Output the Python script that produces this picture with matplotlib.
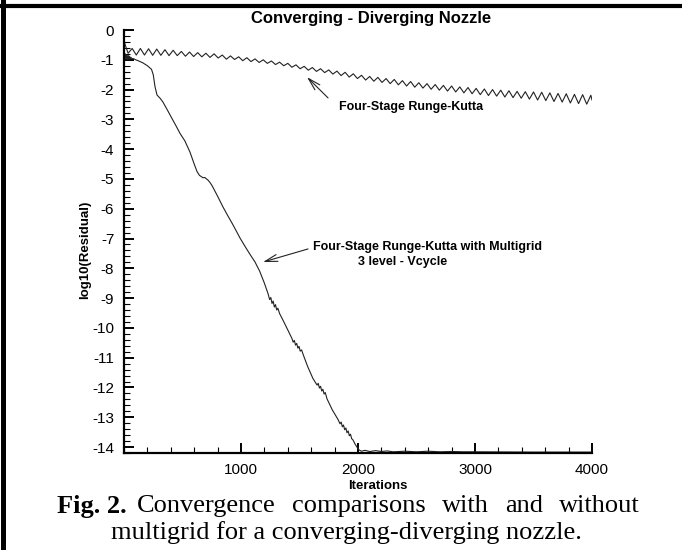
import matplotlib
matplotlib.use("Agg")
import matplotlib.pyplot as plt
from matplotlib.lines import Line2D
from matplotlib.ticker import MultipleLocator

plt.rcParams["font.family"] = ["Liberation Sans", "DejaVu Sans"]
plt.rcParams["axes.unicode_minus"] = False

# residual history, plain four-stage Runge-Kutta (peaks / troughs of the wiggle)
rk_iter = [0, 35, 70, 105, 140, 175, 210, 245, 280, 315, 350, 385, 420, 455, 490,
           525, 560, 595, 630, 665, 700, 735, 770, 805, 840, 875, 910, 945, 980,
           1015, 1050, 1085, 1120, 1155, 1190, 1225, 1260, 1295, 1330, 1365, 1400,
           1435, 1470, 1505, 1540, 1575, 1610, 1645, 1680, 1715, 1750, 1785, 1820,
           1855, 1890, 1925, 1960, 1995, 2030, 2065, 2100, 2135, 2170, 2205, 2240,
           2275, 2310, 2345, 2380, 2415, 2450, 2485, 2520, 2555, 2590, 2625, 2660,
           2695, 2730, 2765, 2800, 2835, 2870, 2905, 2940, 2975, 3010, 3045, 3080,
           3115, 3150, 3185, 3220, 3255, 3290, 3325, 3360, 3395, 3430, 3465, 3500,
           3535, 3570, 3605, 3640, 3675, 3710, 3745, 3780, 3815, 3850, 3885, 3920,
           3955, 3990, 4000]
rk_resid = [-0.38, -0.78, -0.62, -0.84, -0.62, -0.84, -0.63, -0.85, -0.64, -0.85,
            -0.66, -0.86, -0.68, -0.86, -0.72, -0.88, -0.74, -0.89, -0.76, -0.90,
            -0.78, -0.92, -0.80, -0.94, -0.84, -0.98, -0.87, -0.99, -0.90, -1.03,
            -0.93, -1.06, -0.97, -1.09, -1.00, -1.12, -1.04, -1.16, -1.08, -1.20,
            -1.12, -1.25, -1.17, -1.30, -1.22, -1.35, -1.26, -1.39, -1.30, -1.43,
            -1.34, -1.48, -1.38, -1.53, -1.42, -1.58, -1.47, -1.63, -1.52, -1.68,
            -1.56, -1.72, -1.59, -1.76, -1.63, -1.80, -1.66, -1.84, -1.70, -1.88,
            -1.73, -1.92, -1.77, -1.95, -1.80, -1.99, -1.83, -2.02, -1.86, -2.05,
            -1.88, -2.08, -1.91, -2.11, -1.93, -2.14, -1.96, -2.17, -1.98, -2.20,
            -2.00, -2.22, -2.02, -2.25, -2.04, -2.27, -2.06, -2.29, -2.07, -2.32,
            -2.08, -2.35, -2.09, -2.37, -2.11, -2.40, -2.13, -2.42, -2.14, -2.45,
            -2.16, -2.47, -2.17, -2.49, -2.19, -2.35]

# residual history, Runge-Kutta with 3-level V-cycle multigrid
mg_iter = [0, 6, 12, 18, 24, 30, 36, 42, 48, 54, 60, 70, 80, 100, 120, 160, 200,
           235, 250, 265, 282, 310, 333, 370, 410, 445, 480, 520, 564, 600, 624,
           645, 660, 675, 690, 705, 718, 735, 752, 800, 846, 885, 923, 960, 991,
           1040, 1080, 1120, 1160, 1200, 1231, 1245, 1255, 1265, 1275, 1285, 1295,
           1305, 1315, 1330, 1360, 1400, 1436, 1446, 1456, 1466, 1476, 1486, 1496,
           1506, 1518, 1530, 1570, 1615, 1650, 1660, 1670, 1680, 1690, 1700, 1710,
           1720, 1735, 1780, 1830, 1846, 1856, 1866, 1876, 1886, 1896, 1906, 1916,
           1926, 1936, 1946, 1957, 1975, 1991, 2010, 2030, 2060, 2100, 2150, 2200,
           2250, 2300, 2400, 2500, 2600, 2700, 2800, 2900, 3000, 3500, 4000]
mg_resid = [-0.78, -0.98, -0.80, -0.99, -0.83, -1.00, -0.85, -0.99, -0.88, -0.98,
            -0.92, -0.97, -0.96, -1.00, -1.03, -1.10, -1.20, -1.32, -1.50, -1.90,
            -2.18, -2.30, -2.42, -2.68, -2.97, -3.22, -3.48, -3.72, -4.10, -4.50,
            -4.75, -4.88, -4.92, -4.96, -4.95, -5.00, -5.04, -5.12, -5.22, -5.58,
            -5.94, -6.22, -6.48, -6.75, -6.98, -7.30, -7.55, -7.79, -8.10, -8.50,
            -8.85, -9.05, -8.98, -9.18, -9.10, -9.30, -9.22, -9.40, -9.34, -9.52,
            -9.75, -10.07, -10.36, -10.48, -10.42, -10.58, -10.52, -10.68, -10.62,
            -10.78, -10.74, -10.88, -11.30, -11.70, -11.92, -11.86, -12.02, -11.96,
            -12.12, -12.06, -12.22, -12.17, -12.38, -12.75, -13.08, -13.22, -13.16,
            -13.32, -13.26, -13.42, -13.36, -13.52, -13.46, -13.62, -13.57, -13.72,
            -13.76, -13.90, -14.00, -14.10, -14.14, -14.11, -14.15, -14.12, -14.15,
            -14.13, -14.16, -14.14, -14.16, -14.14, -14.16, -14.15, -14.16, -14.16,
            -14.17, -14.17]

x_major = [1000, 2000, 3000, 4000]
y_major = list(range(0, -15, -1))

caption_words = ["Convergence", "comparisons", "with", "and", "without"]
caption_last = "multigrid for a converging-diverging nozzle."

W, H = 682, 550
fig = plt.figure(figsize=(W / 100, H / 100), dpi=100)
ax = fig.add_axes([124 / W, 1 - 453 / H, 468 / W, 423 / H])

ax.plot(rk_iter, rk_resid, color="#222222", lw=0.8)
ax.plot(mg_iter, mg_resid, color="#222222", lw=0.8)

ax.set_xlim(0, 4000)
ax.set_ylim(-14.2, 0)
ax.set_xticks(x_major)
ax.set_yticks(y_major)
ax.xaxis.set_minor_locator(MultipleLocator(200))
ax.yaxis.set_minor_locator(MultipleLocator(0.2))
ax.tick_params(which="major", direction="in", length=7, width=1.4, labelsize=11, pad=7)
ax.tick_params(which="minor", direction="in", length=4, width=0.8)
for side in ("top", "right"):
    ax.spines[side].set_visible(False)
for side in ("left", "bottom"):
    ax.spines[side].set_linewidth(1.6)

ax.set_xlabel("Iterations", fontsize=9.5, fontweight="bold")
ax.xaxis.set_label_coords(0.543, -0.063)
ax.set_ylabel("log10(Residual)", fontsize=9.5, fontweight="bold")
ax.yaxis.set_label_coords(-0.07, 0.48)

arrow = dict(arrowstyle="->, head_length=0.9, head_width=0.25",
             color="#222222", lw=0.8, mutation_scale=10, shrinkA=0, shrinkB=0)
ax.annotate("", xy=(1564, -1.58), xytext=(1744, -2.28), arrowprops=arrow)
ax.text(1838, -2.58, "Four-Stage Runge-Kutta", fontsize=9, fontweight="bold",
        ha="left", va="center")

ax.annotate("", xy=(1188, -7.79), xytext=(1573, -7.35), arrowprops=arrow)
ax.text(1615, -7.28, "Four-Stage Runge-Kutta with Multigrid", fontsize=9,
        fontweight="bold", ha="left", va="center")
ax.text(2000, -7.79, "3 level - Vcycle", fontsize=9, fontweight="bold",
        ha="left", va="center")

fig.text(371 / W, 1 - 19 / H, "Converging - Diverging Nozzle", fontsize=12,
         fontweight="bold", ha="center", va="center")

# caption: first line justified between x0 and x1, last line centred
serif = ["Liberation Serif", "DejaVu Serif"]
cap_size = 19
y1, y2 = 1 - 506 / H, 1 - 533 / H
x0, x1 = 137, 640
fig.text(57 / W, y1, "Fig. 2.", family=serif, fontsize=cap_size,
         fontweight="bold", ha="left", va="center")
renderer = fig.canvas.get_renderer()
words = [fig.text(0, y1, w, family=serif, fontsize=cap_size, ha="left", va="center")
         for w in caption_words]
widths = [t.get_window_extent(renderer).width for t in words]
gap = (x1 - x0 - sum(widths)) / (len(words) - 1)
xpos = x0
for t, w in zip(words, widths):
    t.set_x(xpos / W)
    xpos += w + gap
fig.text(346 / W, y2, caption_last, family=serif, fontsize=cap_size,
         ha="center", va="center")

# page frame along the top and left edges
fig.add_artist(Line2D([0, 1], [1 - 5.5 / H, 1 - 5.5 / H], color="black", lw=3,
                      transform=fig.transFigure))
fig.add_artist(Line2D([2.5 / W, 2.5 / W], [0, 1], color="black", lw=3.6,
                      transform=fig.transFigure))

fig.savefig("out.png", dpi=100)
